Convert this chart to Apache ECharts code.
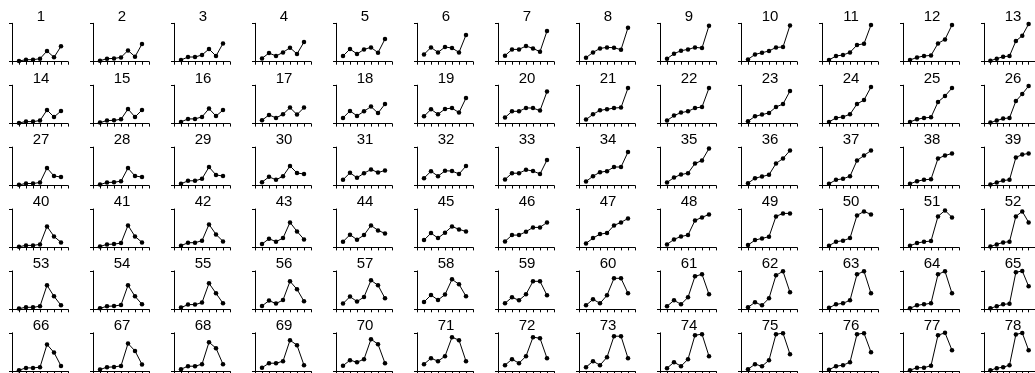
<!DOCTYPE html>
<html>
<head>
<meta charset="utf-8">
<script src="https://cdn.jsdelivr.net/npm/echarts@6/dist/echarts.min.js"></script>
<style>
html,body{margin:0;padding:0;background:#fff;}
#chart{width:1035px;height:373px;}
</style>
</head>
<body>
<div id="chart"></div>
<script>
// Panel labels
const panelLabels = [
  "1","2","3","4","5","6","7","8","9","10","11","12","13",
  "14","15","16","17","18","19","20","21","22","23","24","25","26",
  "27","28","29","30","31","32","33","34","35","36","37","38","39",
  "40","41","42","43","44","45","46","47","48","49","50","51","52",
  "53","54","55","56","57","58","59","60","61","62","63","64","65",
  "66","67","68","69","70","71","72","73","74","75","76","77","78"
];
// x positions of the seven points in each panel
const xPoints = [1, 2, 3, 4, 5, 6, 7];

// Series values, one row of panels per array
const row1Values = [
  [0.7, 2, 2, 3, 10.7, 4.4, 15.4],
  [1, 3, 3.3, 4.3, 11.3, 5, 17.7],
  [1.7, 4.7, 4.7, 6.7, 12.7, 5.7, 18.3],
  [3.3, 8.7, 5.7, 9.3, 14, 7.7, 19.7],
  [5.7, 12.7, 7.7, 12.3, 14.3, 9, 22.7],
  [7.3, 14.3, 9.3, 14.7, 13.7, 9.3, 26.7],
  [6, 12.3, 12.3, 15.7, 13.3, 10, 30.7],
  [4, 9.3, 13.3, 14.3, 14, 12, 34],
  [3, 8, 11, 12.3, 14.3, 13.7, 36],
  [2.3, 7.3, 9, 10.7, 14.3, 14.7, 36.3],
  [1.7, 5.7, 6.7, 9.3, 16.7, 18, 36.7],
  [1.7, 4.3, 5.7, 6.3, 18.3, 22.3, 36.7],
  [1, 3, 5, 5.7, 20.7, 26, 37.7]
];
const row2Values = [
  [0.7, 2, 2, 3, 13.6, 6.6, 12.6],
  [1, 3, 3.3, 4.3, 14.6, 6.6, 13.6],
  [1.7, 4.7, 4.7, 6.7, 15, 7.5, 13.5],
  [3.3, 8.7, 5.7, 9.3, 16, 9, 16],
  [5.7, 12.7, 7.7, 12.3, 17, 10.5, 19.6],
  [7.3, 14.3, 9.3, 14.7, 15.5, 11, 25.6],
  [6, 12.3, 12.3, 15.7, 15.5, 13, 32],
  [4, 9.3, 13.3, 14.3, 15.6, 16, 35.6],
  [3, 8, 11, 12.3, 15.6, 16.6, 35.6],
  [2.3, 7.3, 9, 10.7, 16.6, 19.6, 32.6],
  [1.7, 5.7, 6.7, 9.3, 19.6, 23.6, 36.6],
  [1.7, 4.3, 5.7, 6.3, 21.6, 27.6, 35.6],
  [1, 3, 5, 5.7, 22.6, 29.6, 37.6]
];
const row3Values = [
  [0.7, 2, 2, 3, 17.5, 9.5, 8.5],
  [1, 3, 3.3, 4.3, 17.5, 9.5, 8.5],
  [1.7, 4.7, 4.7, 6.7, 18.5, 10.5, 9.5],
  [3.3, 8.7, 5.7, 9.3, 19.5, 12.5, 11.5],
  [5.7, 12.7, 7.7, 12.3, 16, 13, 15],
  [7.3, 14.3, 9.3, 14.7, 14.5, 11.5, 19.5],
  [6, 12.3, 12.3, 15.7, 14.5, 11.5, 25.5],
  [4, 9.3, 13.3, 14.3, 18.5, 18.5, 33.5],
  [3, 8, 11, 12.3, 22, 25, 37],
  [2.3, 7.3, 9, 10.7, 22, 27, 35],
  [1.7, 5.7, 6.7, 9.3, 25, 30, 35],
  [1.7, 4.3, 5.7, 6.3, 27, 30, 32],
  [1, 3, 5, 5.7, 28, 31, 32]
];
const row4Values = [
  [0.7, 2, 2, 3, 21, 11, 5],
  [1, 3, 3.3, 4.3, 22, 11, 5],
  [1.7, 4.7, 4.7, 6.7, 23, 13, 6],
  [3.3, 8.7, 5.7, 9.3, 25, 16, 8],
  [5.7, 12.7, 7.7, 12.3, 22, 17, 14],
  [7.3, 14.3, 9.3, 14.7, 21, 18, 16],
  [6, 12.3, 12.3, 15.7, 20, 20, 25],
  [4, 9.3, 13.3, 14.3, 22, 25, 29],
  [3, 8, 11, 12.3, 27, 30, 33],
  [2.3, 7.3, 9, 10.7, 31, 34, 34],
  [1.7, 5.7, 6.7, 9.3, 32, 36, 33],
  [1.7, 4.3, 5.7, 6.3, 31, 37, 30],
  [1, 3, 5, 5.7, 31, 36, 25]
];
const row5Values = [
  [0.7, 2, 2, 3, 24, 13, 4],
  [1, 3, 3.3, 4.3, 24, 13, 5],
  [1.7, 4.7, 4.7, 6.7, 26, 16, 6],
  [3.3, 8.7, 5.7, 9.3, 28, 20, 8],
  [5.7, 12.7, 7.7, 12.3, 29, 24, 11],
  [7.3, 14.3, 9.3, 14.7, 30, 25, 13],
  [6, 12, 9, 15, 28, 28, 14],
  [4, 10, 6, 14, 31, 31, 16],
  [3, 9, 5, 12, 33, 35, 15],
  [2, 7, 4, 11, 34, 38, 17],
  [1.5, 5, 6, 9, 35, 38, 16],
  [1, 4, 5, 6, 35, 38, 16],
  [1, 3, 5, 5.5, 37, 38.4, 23]
];
const row6Values = [
  [1, 3.3, 3.3, 4, 26.7, 18.7, 5.3],
  [1.7, 4, 4.3, 5.3, 27.7, 20.3, 6.7],
  [2, 5, 5, 7, 29, 23, 7],
  [3.5, 8, 8, 10, 31, 26, 6],
  [5.5, 11, 9, 12, 32, 27, 8],
  [7, 13, 10, 15, 34, 31, 10],
  [6, 12, 8, 15, 34, 33, 13],
  [4, 10, 6, 14, 35, 35, 13],
  [3, 9, 5, 12, 36, 37, 15],
  [2, 7, 5, 11, 37, 38, 17],
  [1.5, 5, 6, 9, 37, 38, 19],
  [1, 3.5, 3.5, 5.5, 36, 38.4, 21],
  [1, 3, 4, 6, 36.7, 38.3, 21]
];
const allRows = [row1Values, row2Values, row3Values, row4Values, row5Values, row6Values];

const Y_MAX = 38.4;
const X_MIN = 0, X_MAX = 8;

const COL_STEP = 81;
const ROW_STEP = 61.9;
const LEFT0 = 12;
const TOP0 = 23.3;
const PW = 56;
const PH = 38.4;

const grids = [], xAxes = [], yAxes = [], series = [], graphics = [];
let idx = 0;
allRows.forEach((rowVals, r) => {
  rowVals.forEach((vals, c) => {
    const left = LEFT0 + c * COL_STEP;
    const top = TOP0 + r * ROW_STEP;
    grids.push({left: left, top: top, width: PW, height: PH, containLabel: false});
    xAxes.push({
      type: 'value', gridIndex: idx, min: X_MIN, max: X_MAX, interval: 1,
      axisLine: {show: true, onZero: false, lineStyle: {color: '#000', width: 1}},
      axisTick: {show: true, length: 3, lineStyle: {color: '#000', width: 1}},
      axisLabel: {show: false}, splitLine: {show: false}
    });
    yAxes.push({
      type: 'value', gridIndex: idx, min: 0, max: Y_MAX, interval: Y_MAX,
      axisLine: {show: true, onZero: false, lineStyle: {color: '#000', width: 1}},
      axisTick: {show: true, length: 3, lineStyle: {color: '#000', width: 1}},
      axisLabel: {show: false}, splitLine: {show: false}
    });
    series.push({
      type: 'line', xAxisIndex: idx, yAxisIndex: idx,
      data: vals.map((v, i) => [xPoints[i], v]),
      symbol: 'circle', symbolSize: 4.5, showSymbol: true,
      itemStyle: {color: '#000'},
      lineStyle: {color: '#000', width: 1},
      animation: false, silent: true
    });
    graphics.push({
      type: 'text', x: left + 29, y: 16.5 + r * ROW_STEP,
      style: {
        text: panelLabels[idx], fill: '#000', fontSize: 15,
        fontFamily: 'Liberation Sans, Arial, sans-serif',
        align: 'center', verticalAlign: 'middle'
      }
    });
    idx++;
  });
});

const chart = echarts.init(document.getElementById('chart'), null, {renderer: 'canvas'});
chart.setOption({
  animation: false,
  backgroundColor: '#fff',
  grid: grids, xAxis: xAxes, yAxis: yAxes, series: series,
  graphic: graphics
});
</script>
</body>
</html>
